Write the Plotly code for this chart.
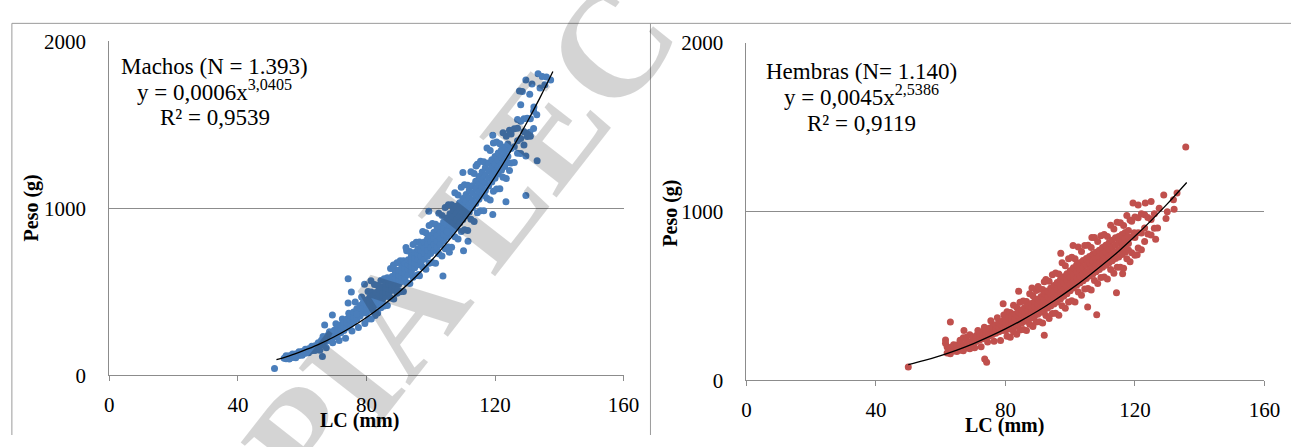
import plotly.graph_objects as go

# ---------------- data ----------------
# Machos: LC (mm) vs Peso (g)
machos_lc = [
    55, 55, 56, 56, 57, 57, 58, 58, 59, 59, 60, 60, 61, 61, 62, 62, 63, 63, 64, 64,
    65, 65, 65, 65.5, 66, 66, 66, 66.5, 67, 67, 67, 67.5, 68, 68, 68, 68.5,
    69, 69, 69, 69.5, 70, 70, 70, 70.5, 71, 71, 71, 71.5, 72, 72, 72, 72.5,
    73, 73, 73, 73.5, 74, 74, 74, 74.5, 75, 75, 75, 75.5, 76, 76, 76, 76.5,
    77, 77, 77, 77.5, 78, 78, 78, 78.5, 79, 79, 79, 79.5,
    80, 80, 80, 80, 80.5, 80.5, 81, 81, 81, 81, 81.5, 81.5, 82, 82, 82, 82, 82.5, 82.5,
    83, 83, 83, 83, 83.5, 83.5, 84, 84, 84, 84, 84.5, 84.5, 85, 85, 85, 85, 85.5, 85.5,
    86, 86, 86, 86, 86.5, 86.5, 87, 87, 87, 87, 87.5, 87.5, 88, 88, 88, 88, 88.5, 88.5,
    89, 89, 89, 89, 89.5, 89.5, 90, 90, 90, 90, 90.5, 90.5, 91, 91, 91, 91, 91.5, 91.5,
    92, 92, 92, 92, 92.5, 92.5, 93, 93, 93, 93, 93.5, 93.5, 94, 94, 94, 94, 94.5, 94.5,
    95, 95, 95, 95, 95.5, 95.5, 96, 96, 96, 96, 96.5, 96.5, 97, 97, 97, 97, 97.5, 97.5,
    98, 98, 98, 98, 98.5, 98.5, 99, 99, 99, 99, 99.5, 99.5,
    100, 100, 100, 100, 100.5, 100.5, 101, 101, 101, 101, 101.5, 101.5,
    102, 102, 102, 102, 102.5, 102.5, 103, 103, 103, 103, 103.5, 103.5,
    104, 104, 104, 104, 104.5, 104.5, 105, 105, 105, 105, 105.5, 105.5,
    106, 106, 106, 106, 106.5, 106.5, 107, 107, 107, 107, 107.5, 107.5,
    108, 108, 108, 108, 108.5, 108.5, 109, 109, 109, 109, 109.5, 109.5,
    110, 110, 110, 110, 110.5, 110.5, 111, 111, 111, 111, 111.5, 111.5,
    112, 112, 112, 112, 112.5, 112.5, 113, 113, 113, 113, 113.5, 113.5,
    114, 114, 114, 114, 114.5, 114.5, 115, 115, 115, 115, 115.5, 115.5,
    116, 116, 116, 116, 116.5, 116.5, 117, 117, 117, 117, 117.5, 117.5,
    118, 118, 118, 118, 118.5, 118.5, 119, 119, 119, 119, 119.5, 119.5,
    120, 120, 120, 120, 120.5, 120.5, 121, 121, 121, 121, 121.5, 121.5,
    122, 122, 122, 122, 122.5, 122.5, 123, 123, 123, 123, 123.5, 123.5,
    124, 124, 124, 124, 124.5, 124.5,
    125, 125, 125, 126, 126, 126, 127, 127, 127,
    128, 128, 128, 129, 129, 129, 130, 130, 131, 131, 132, 132,
    51.4, 54.4, 57.6, 66.3, 69.4, 67.0, 74.3, 75.3, 79.4, 81.4, 88.4, 92.3, 99.4,
    110.0, 114.1, 129.6, 123.4, 133.1, 133.4, 129.6, 127.6, 130.8, 137.3, 136.0,
    134.7, 132.1, 127.0, 130.8, 119.3, 129.6, 105.1, 111.6, 103.8, 110.2, 105.8,
    96.2, 89.7, 82.7, 76.9, 74.3, 119.3, 116.7, 135.5, 134.0, 131.5, 128.5, 133.0, 128.0,
]
machos_peso = [
    99, 117, 98, 117, 107, 128, 106, 128, 119, 141, 120, 143, 133, 157, 135, 160, 148, 175, 149, 177,
    171, 183, 195, 151, 184, 197, 211, 233, 195, 210, 225, 165, 207, 223, 240, 262,
    219, 237, 255, 195, 231, 250, 270, 309, 243, 264, 285, 209, 256, 279, 301, 337,
    269, 293, 316, 223, 287, 312, 338, 372, 303, 331, 358, 266, 320, 350, 380, 440,
    338, 369, 399, 287, 355, 387, 418, 469, 374, 405, 437, 311,
    376, 401, 426, 452, 338, 502, 390, 415, 440, 466, 338, 499, 403, 428, 453, 479, 378, 544,
    420, 445, 470, 496, 374, 538, 436, 461, 486, 512, 405, 568, 453, 478, 503, 529, 415, 579,
    472, 498, 524, 550, 418, 584, 490, 517, 544, 571, 463, 640, 509, 537, 564, 592, 458, 638,
    527, 555, 583, 611, 492, 674, 544, 573, 601, 629, 501, 686, 562, 591, 620, 648, 502, 687,
    583, 612, 641, 670, 554, 746, 604, 634, 663, 693, 550, 742, 625, 655, 685, 715, 588, 783,
    644, 675, 705, 736, 598, 797, 662, 694, 726, 757, 596, 799, 681, 713, 746, 778, 649, 862,
    697, 731, 764, 798, 635, 854, 714, 749, 784, 818, 671, 897,
    730, 766, 802, 838, 676, 910, 748, 784, 821, 857, 672, 905,
    765, 802, 839, 876, 728, 971, 783, 820, 857, 895, 715, 957,
    805, 843, 881, 919, 758, 1005, 827, 866, 904, 943, 769, 1021,
    849, 889, 928, 968, 767, 1021, 870, 910, 950, 990, 830, 1093,
    891, 932, 972, 1012, 817, 1080, 912, 953, 994, 1034, 861, 1126,
    934, 976, 1017, 1059, 872, 1142, 956, 998, 1041, 1083, 868, 1139,
    978, 1021, 1064, 1108, 935, 1219, 1003, 1047, 1091, 1135, 922, 1209,
    1029, 1074, 1118, 1163, 973, 1264, 1054, 1100, 1145, 1191, 986, 1282,
    1081, 1127, 1172, 1218, 986, 1279, 1107, 1153, 1198, 1244, 1061, 1362,
    1134, 1180, 1225, 1271, 1050, 1347, 1158, 1202, 1247, 1291, 1103, 1391,
    1181, 1224, 1267, 1311, 1116, 1397, 1205, 1247, 1289, 1331, 1118, 1387,
    1228, 1268, 1308, 1349, 1187, 1453, 1250, 1289, 1328, 1367, 1179, 1432,
    1273, 1310, 1347, 1385, 1227, 1468,
    1271, 1358, 1445, 1274, 1369, 1477, 1330, 1405, 1480,
    1329, 1419, 1521, 1380, 1459, 1537, 1431, 1539, 1432, 1536, 1478, 1582,
    41, 102, 121, 113, 362, 301, 579, 500, 545, 566, 661, 765, 983,
    1214, 1254, 1077, 1040, 1285, 1806, 1768, 1702, 1683, 1768, 1787,
    1790, 1607, 1532, 1456, 1437, 1314, 860, 803, 595, 746, 737,
    604, 510, 358, 367, 433, 964, 1077, 1740, 1720, 1745, 1700, 1560, 1620,
]
machos_fit_lc = [52, 56, 60, 65, 70, 75, 80, 85, 90, 95, 100, 105, 110, 115, 120, 125, 130, 134, 138]
machos_fit_peso = [94, 117, 145, 184, 231, 285, 347, 417, 496, 585, 683, 793, 913, 1045, 1190, 1347, 1517, 1663, 1819]

# Hembras: LC (mm) vs Peso (g)
hembras_lc = [
    62, 62, 63, 63, 64, 64, 65, 65, 66, 66, 66, 67, 67, 67, 68, 68, 68, 69, 69, 69,
    70, 70, 70, 70.5, 71, 71, 71, 71.5, 72, 72, 72, 72.5, 73, 73, 73, 73.5, 74, 74, 74, 74.5,
    75, 75, 75, 75.5, 76, 76, 76, 76.5, 77, 77, 77, 77.5, 78, 78, 78, 78.5, 79, 79, 79, 79.5,
    80, 80, 80, 80, 80.5, 80.5, 81, 81, 81, 81, 81.5, 81.5, 82, 82, 82, 82, 82.5, 82.5,
    83, 83, 83, 83, 83.5, 83.5, 84, 84, 84, 84, 84.5, 84.5, 85, 85, 85, 85, 85.5, 85.5,
    86, 86, 86, 86, 86.5, 86.5, 87, 87, 87, 87, 87.5, 87.5, 88, 88, 88, 88, 88.5, 88.5,
    89, 89, 89, 89, 89.5, 89.5, 90, 90, 90, 90, 90.5, 90.5, 91, 91, 91, 91, 91.5, 91.5,
    92, 92, 92, 92, 92.5, 92.5, 93, 93, 93, 93, 93.5, 93.5, 94, 94, 94, 94, 94.5, 94.5,
    95, 95, 95, 95, 95.5, 95.5, 96, 96, 96, 96, 96.5, 96.5, 97, 97, 97, 97, 97.5, 97.5,
    98, 98, 98, 98, 98.5, 98.5, 99, 99, 99, 99, 99.5, 99.5,
    100, 100, 100, 100, 100.5, 100.5, 101, 101, 101, 101, 101.5, 101.5,
    102, 102, 102, 102, 102.5, 102.5, 103, 103, 103, 103, 103.5, 103.5,
    104, 104, 104, 104, 104.5, 104.5, 105, 105, 105, 105, 105.5, 105.5,
    106, 106, 106, 106, 106.5, 106.5, 107, 107, 107, 107, 107.5, 107.5,
    108, 108, 108, 108, 108.5, 108.5, 109, 109, 109, 109, 109.5, 109.5,
    110, 110, 110, 110, 110.5, 110.5, 111, 111, 111, 111, 111.5, 111.5,
    112, 112, 112, 112, 112.5, 112.5, 113, 113, 113, 113, 113.5, 113.5,
    114, 114, 114, 114, 114.5, 114.5, 115, 115, 115, 115, 115.5, 115.5,
    116, 116, 116, 116, 116.5, 116.5, 117, 117, 117, 117, 117.5, 117.5,
    118, 118, 118, 118, 118.5, 118.5,
    119, 119, 119, 120, 120, 120, 121, 121, 121,
    122, 122, 122, 123, 123, 123, 124, 124, 125, 125, 126, 126,
    50.0, 63.0, 61.5, 61.5, 73.6, 74.2, 67.2, 79.3, 84.1, 88.2, 90.1, 92.0, 97.1,
    100.9, 106.7, 108.2, 114.3, 105.4, 92.0, 119.4, 123.2, 128.9, 126.4, 131.9,
    132.1, 129.6, 127.0, 135.7, 119.8, 120.7, 116.2, 125.0, 121.0, 127.5, 130.0, 133.0,
]
hembras_peso = [
    162, 198, 158, 195, 174, 211, 171, 210, 178, 208, 238, 175, 211, 252, 192, 224, 255, 188, 226, 270,
    222, 239, 256, 194, 230, 248, 266, 296, 239, 258, 277, 200, 247, 267, 287, 315, 255, 277, 299, 227,
    263, 286, 309, 354, 272, 296, 320, 232, 280, 305, 330, 372, 288, 314, 340, 236, 296, 324, 351, 387,
    295, 318, 340, 362, 261, 407, 304, 327, 350, 373, 256, 403, 312, 336, 359, 383, 288, 445,
    320, 344, 369, 393, 274, 434, 330, 356, 381, 406, 299, 463, 340, 367, 393, 419, 301, 471,
    351, 378, 405, 432, 295, 468, 361, 388, 416, 443, 333, 514, 371, 399, 427, 455, 320, 502,
    382, 411, 440, 468, 346, 533, 392, 422, 451, 481, 348, 540, 404, 435, 466, 497, 340, 539,
    416, 449, 481, 514, 384, 598, 429, 462, 496, 530, 367, 587, 441, 476, 512, 547, 397, 626,
    453, 490, 526, 563, 398, 636, 465, 504, 542, 580, 386, 631, 482, 520, 559, 598, 443, 697,
    498, 537, 576, 615, 427, 680, 514, 554, 593, 632, 465, 721,
    531, 571, 611, 650, 472, 730, 547, 587, 627, 667, 464, 721,
    564, 605, 645, 685, 524, 790, 577, 617, 657, 697, 504, 764,
    591, 630, 670, 710, 541, 800, 604, 644, 683, 722, 545, 801,
    618, 657, 696, 735, 536, 787, 631, 670, 708, 747, 592, 847,
    644, 682, 721, 759, 574, 823, 657, 696, 734, 772, 610, 858,
    671, 709, 748, 787, 613, 864, 683, 722, 762, 801, 601, 853,
    697, 736, 776, 816, 657, 919, 709, 750, 790, 830, 635, 898,
    722, 763, 804, 845, 671, 937, 732, 773, 813, 853, 671, 934,
    746, 786, 825, 865, 664, 918, 760, 799, 838, 877, 721, 977,
    773, 812, 850, 888, 703, 951,
    756, 850, 943, 741, 847, 969, 785, 875, 964,
    775, 874, 988, 823, 903, 982, 867, 966, 861, 954, 902, 988,
    80, 346, 239, 220, 127, 108, 295, 454, 529, 547, 557, 585, 753,
    800, 847, 389, 519, 435, 267, 1052, 1052, 1099, 837, 1071,
    1015, 959, 903, 1383, 875, 744, 632, 1060, 1040, 1020, 1000, 1110,
]
hembras_fit_lc = [50, 55, 60, 65, 70, 75, 80, 85, 90, 95, 100, 105, 110, 115, 120, 125, 130, 136]
hembras_fit_peso = [93, 118, 147, 180, 217, 259, 305, 356, 411, 472, 538, 609, 685, 766, 854, 947, 1046, 1173]

x_ticks = [0, 40, 80, 120, 160]
y_ticks = [0, 1000, 2000]

# ---------------- figure ----------------
W, H = 1307, 447
SERIF = "Liberation Serif"
AX_GRAY = "#8c8c8c"

fig = go.Figure()

fig.add_trace(go.Scatter(x=machos_lc, y=machos_peso, mode="markers",
                         marker=dict(size=7, color="#4A7EBB", line=dict(width=0)),
                         xaxis="x", yaxis="y", showlegend=False))
fig.add_trace(go.Scatter(x=machos_fit_lc, y=machos_fit_peso, mode="lines",
                         line=dict(color="black", width=1.3, shape="spline"),
                         xaxis="x", yaxis="y", showlegend=False))
fig.add_trace(go.Scatter(x=hembras_lc, y=hembras_peso, mode="markers",
                         marker=dict(size=7, color="#C0504D", line=dict(width=0)),
                         xaxis="x2", yaxis="y2", showlegend=False))
fig.add_trace(go.Scatter(x=hembras_fit_lc, y=hembras_fit_peso, mode="lines",
                         line=dict(color="black", width=1.3, shape="spline"),
                         xaxis="x2", yaxis="y2", showlegend=False))

def xax(domain, anchor):
    return dict(domain=domain, anchor=anchor, range=[0, 160], tickvals=x_ticks,
                showgrid=False, zeroline=False, showline=True, linecolor=AX_GRAY,
                linewidth=1, ticks="outside", ticklen=5, tickcolor=AX_GRAY,
                tickfont=dict(family=SERIF, size=21, color="black"),
                ticklabelstandoff=5, fixedrange=True)

def yax(domain, anchor):
    return dict(domain=domain, anchor=anchor, range=[0, 2000], tickvals=y_ticks,
                showgrid=True, gridcolor=AX_GRAY, gridwidth=1, zeroline=False,
                showline=True, linecolor=AX_GRAY, linewidth=1, ticks="",
                tickfont=dict(family=SERIF, size=21, color="black"),
                ticklabelstandoff=18, fixedrange=True)

fig.update_layout(
    width=W, height=H, margin=dict(l=0, r=0, t=0, b=0),
    paper_bgcolor="white", plot_bgcolor="white",
    font=dict(family=SERIF),
    xaxis=xax([106 / W, 628.7 / W], "y"),
    yaxis=yax([(H - 384) / H, (H - 31) / H], "x"),
    xaxis2=xax([753.5 / W, 1280 / W], "y2"),
    yaxis2=yax([(H - 389.3) / H, (H - 32.7) / H], "x2"),
)

def px(xp, yp):
    return xp / W, 1 - yp / H

annos = []
def add_text(text, xp, yp, size, bold=False, angle=0, color="black"):
    x, y = px(xp, yp)
    annos.append(dict(text=text, x=x, y=y, xref="paper", yref="paper",
                      xanchor="center", yanchor="middle", showarrow=False,
                      textangle=angle, align="center",
                      font=dict(family=SERIF, size=size, color=color,
                                weight="bold" if bold else "normal")))

add_text("Machos (N = 1.393)", 213, 58, 23)
add_text("y = 0,0006x<sup>3,0405</sup>", 213, 83, 23)
add_text("R² = 0,9539", 213, 112, 23)
add_text("Hembras (N= 1.140)", 870, 63, 23)
add_text("y = 0,0045x<sup>2,5386</sup>", 870, 88, 23)
add_text("R² = 0,9119", 870, 118, 23)
add_text("LC (mm)", 360, 432, 20, bold=True)
add_text("LC (mm)", 1016, 437, 20, bold=True)
add_text("Peso (g)", 27, 207, 20, bold=True, angle=-90)
add_text("Peso (g)", 676, 213, 20, bold=True, angle=-90)
# watermark
add_text("PIA LEC", 462, 240, 150, bold=True, angle=-52, color="rgba(0,0,0,0.17)")
fig.update_layout(annotations=annos)

# outer chart frames
frame = dict(type="line", xref="paper", yref="paper", line=dict(color="#9a9a9a", width=1))
shapes = [
    dict(frame, x0=7 / W, x1=7 / W, y0=1 - 12 / H, y1=0),
    dict(frame, x0=7 / W, x1=1, y0=1 - 12 / H, y1=1 - 12 / H),
    dict(frame, x0=656 / W, x1=656 / W, y0=1 - 12 / H, y1=0),
]
fig.update_layout(shapes=shapes)

fig.write_html("out.html", config={"displayModeBar": False, "staticPlot": True},
               post_script="document.body.style.margin='0';document.body.style.overflow='hidden';")
